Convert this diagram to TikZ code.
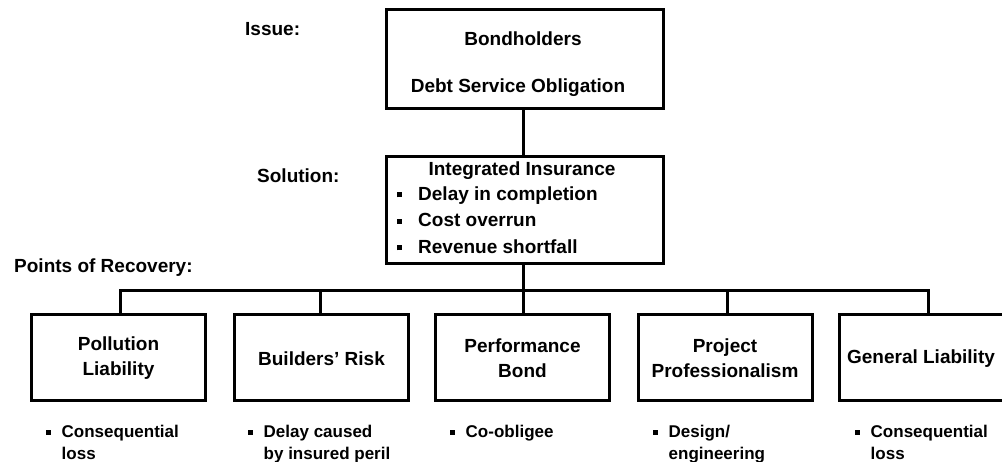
\documentclass[tikz,border=0pt]{standalone}
\usepackage{fontspec}
\setmainfont{Liberation Sans}
\newcommand{\bigbul}{\rule[3pt]{5pt}{5pt}}
\newcommand{\smallbul}{\rule[3pt]{4.5pt}{4.5pt}}
\begin{document}
\begin{tikzpicture}[x=1pt,y=-1pt,
  box/.style={draw, line width=3pt, inner sep=0pt, minimum width=#1},
  big/.style={font=\fontsize{19}{25}\selectfont\bfseries, inner sep=0pt},
  small/.style={font=\fontsize{17}{21}\selectfont\bfseries, inner sep=0pt, anchor=base west},
  conn/.style={line width=3pt}]
\clip (0,0) rectangle (1002,462);
\useasboundingbox (0,0) rectangle (1002,462);
% boxes
\node[box=277, minimum height=99] (top) at (525,59) {};
\node[box=277, minimum height=107] (mid) at (525,210) {};
\node[box=174, minimum height=86] (b1) at (118.5,357.5) {};
\node[box=174, minimum height=86] (b2) at (321.5,357.5) {};
\node[box=174, minimum height=86] (b3) at (522.5,357.5) {};
\node[box=174, minimum height=86] (b4) at (725,357.5) {};
\node[box=177, minimum height=86] (b5) at (928,357.5) {};
% labels
\node[big, anchor=west] (issue) at (245,29) {Issue:};
\node[big, anchor=west] (sol) at (257,176) {Solution:};
\node[big, anchor=west] (por) at (14,268) {Points of Recovery:};
% top box text
\node[big] (t1) at (523,39) {Bondholders};
\node[big] (t2) at (518,88) {Debt Service Obligation};
% mid box text
\node[big] (m1) at (522,170.5) {Integrated Insurance};
\node[big, font=\fontsize{19}{26.5}\selectfont\bfseries, anchor=base west] (m2) at (397,200.5)
  {\begin{tabular}[t]{@{}l@{\hspace{16pt}}l@{}}\bigbul & Delay in completion\\ \bigbul & Cost overrun\\ \bigbul & Revenue shortfall\end{tabular}};
% bottom box texts
\node[big, align=center] (bt1) at (118.5,358) {Pollution\\Liability};
\node[big] (bt2) at (321.5,359) {Builders' Risk};
\node[big, align=center] (bt3) at (522.5,358) {Performance\\Bond};
\node[big, align=center] (bt4) at (725,358) {Project\\Professionalism};
\node[big] (bt5) at (921,359) {General Liability};
% bullets under boxes
\node[small] (l1) at (46,438) {\begin{tabular}[t]{@{}l@{\hspace{11pt}}l@{}}\smallbul & Consequential\\ & loss\end{tabular}};
\node[small] (l2) at (248,438) {\begin{tabular}[t]{@{}l@{\hspace{11pt}}l@{}}\smallbul & Delay caused\\ & by insured peril\end{tabular}};
\node[small] (l3) at (450,438) {\begin{tabular}[t]{@{}l@{\hspace{11pt}}l@{}}\smallbul & Co-obligee\end{tabular}};
\node[small] (l4) at (653,438) {\begin{tabular}[t]{@{}l@{\hspace{11pt}}l@{}}\smallbul & Design/\\ & engineering\end{tabular}};
\node[small] (l5) at (855,438) {\begin{tabular}[t]{@{}l@{\hspace{11pt}}l@{}}\smallbul & Consequential\\ & loss\end{tabular}};
% connectors
\coordinate (j1) at (120,291);
\coordinate (j2) at (320,291);
\coordinate (j3) at (523,291);
\coordinate (j4) at (727,291);
\coordinate (j5) at (928,291);
\draw[conn] (top.south -| j3) -- (mid.north -| j3);
\draw[conn] (mid.south -| j3) -- (j3);
\draw[conn] (j1 |- b1.north) -- (j1) -- (j5) -- (j5 |- b5.north);
\draw[conn] (j2) -- (j2 |- b2.north);
\draw[conn] (j3) -- (j3 |- b3.north);
\draw[conn] (j4) -- (j4 |- b4.north);
\end{tikzpicture}
\end{document}
